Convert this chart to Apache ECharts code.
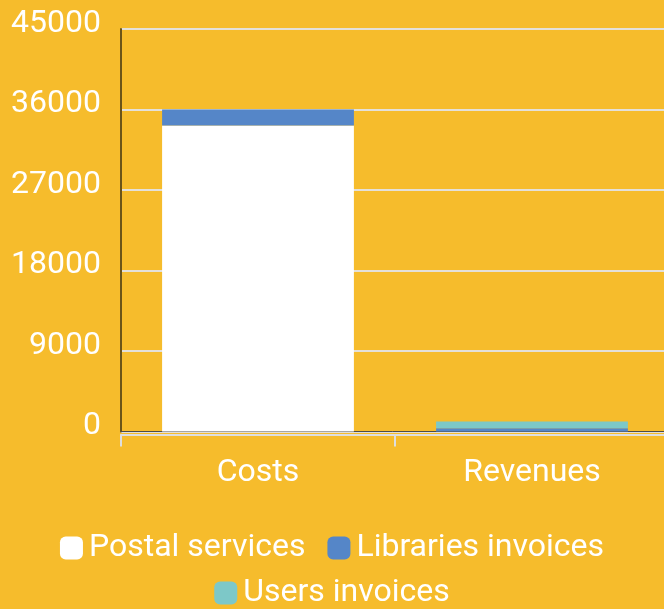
<!DOCTYPE html>
<html>
<head>
<meta charset="utf-8">
<script src="https://cdn.jsdelivr.net/npm/echarts@6/dist/echarts.min.js"></script>
<style>
html,body{margin:0;padding:0;background:#F6BC2C;}
#chart{width:664px;height:609px;}
</style>
</head>
<body>
<div id="chart"></div>
<script>
const categories = ['Costs', 'Revenues'];
const postalServices = [34200, 0];
const librariesInvoices = [1800, 350];
const usersInvoices = [0, 750];
const yMax = 45000;
const yInterval = 9000;
const legendRow1 = ['Postal services', 'Libraries invoices'];
const legendRow2 = ['Users invoices'];

const chart = echarts.init(document.getElementById('chart'), null, {renderer: 'canvas'});
const font = 'Roboto';
const legendBase = {
  left: 'center',
  padding: 0,
  itemGap: 22,
  itemWidth: 23,
  itemHeight: 23,
  icon: 'roundRect',
  textStyle: {color: '#fff', fontSize: 32, fontFamily: font, lineHeight: 23, padding: [0,0,0,1]}
};
chart.setOption({
  backgroundColor: '#F6BC2C',
  animation: false,
  grid: {left: 121, top: 29, width: 548, height: 402.4, containLabel: false, outerBoundsMode: 'none'},
  legend: [
    Object.assign({}, legendBase, {top: 532, data: legendRow1}),
    Object.assign({}, legendBase, {top: 577, data: legendRow2})
  ],
  xAxis: [{
    type: 'category',
    data: categories,
    position: 'bottom',
    offset: 0,
    axisLine: {show: true, lineStyle: {color: '#4a4a4a', width: 1}},
    axisTick: {show: false},
    axisLabel: {show: false}
  }, {
    type: 'category',
    data: categories,
    position: 'bottom',
    offset: 3,
    axisLine: {show: true, lineStyle: {color: '#dedede', width: 2}},
    axisTick: {show: true, length: 12, lineStyle: {color: '#dedede', width: 2}},
    axisLabel: {color: '#fff', fontSize: 32, fontFamily: font, margin: 23}
  }],
  yAxis: {
    type: 'value',
    min: 0,
    max: yMax,
    interval: yInterval,
    axisLine: {show: true, lineStyle: {color: '#6b5418', width: 2}},
    axisTick: {show: false},
    splitLine: {show: true, lineStyle: {color: '#e4e0d8', width: 2}},
    axisLabel: {color: '#fff', fontSize: 32, fontFamily: font, margin: 20, verticalAlign: 'bottom', lineHeight: 10,
      formatter: function (v) { return String(v); }}
  },
  series: [
    {name: 'Postal services', type: 'bar', stack: 'total', barWidth: '70%', data: postalServices, itemStyle: {color: '#ffffff'}},
    {name: 'Libraries invoices', type: 'bar', stack: 'total', barWidth: '70%', data: librariesInvoices, itemStyle: {color: '#5586C8'}},
    {name: 'Users invoices', type: 'bar', stack: 'total', barWidth: '70%', data: usersInvoices, itemStyle: {color: '#7DC8C8'}}
  ]
});
</script>
</body>
</html>
